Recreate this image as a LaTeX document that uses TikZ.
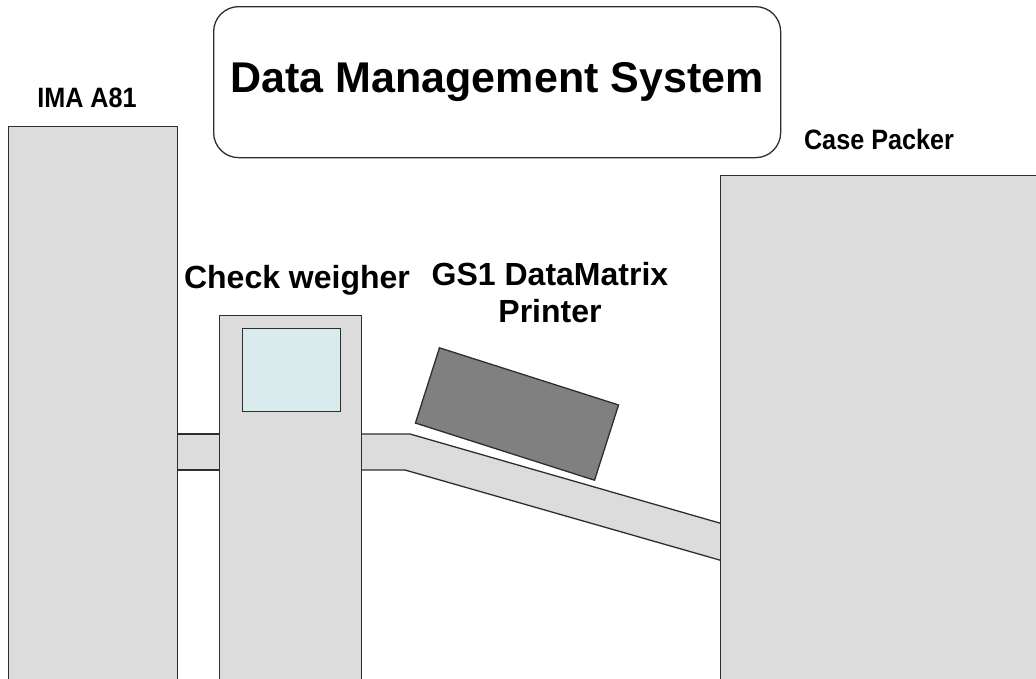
\documentclass[tikz,border=0pt]{standalone}
\usepackage{fontspec}
\setmainfont{Liberation Sans}
\usetikzlibrary{positioning,calc}
\definecolor{machinegray}{HTML}{DCDCDC}
\definecolor{screenblue}{HTML}{DAEBEE}
\definecolor{printergray}{HTML}{808080}
\definecolor{edgegray}{HTML}{2E2E2E}
\newcommand{\narrowtext}[1]{\scalebox{.9}[1]{#1}}

\begin{document}
\begin{tikzpicture}[x=1pt,y=-1pt,line width=1.3pt,draw=edgegray,
      machine/.style={draw=edgegray, fill=machinegray, inner sep=0, anchor=north west},
      tag/.style={font=\bfseries\fontsize{32}{37}\selectfont, align=center},
      narrowtag/.style={font=\bfseries\fontsize{28}{32}\selectfont}]
     \useasboundingbox (0,0) rectangle (1036,678);
     \clip (0,0) rectangle (1036,678);
     % conveyors
     \fill[machinegray] (170,434) rectangle (225,470);
     \draw (177,434) -- (219,434) (177,470) -- (219,470);
     \fill[machinegray] (355,434) -- (410,434) -- (730,526) -- (730,563) -- (405,470) -- (355,470) -- cycle;
     \draw (361,434) -- (410,434) -- (730,526);
     \draw (361,470) -- (405,470) -- (730,563);
     % machines
     \node[machine, minimum width=169, minimum height=600] (ima) at (8,126) {};
     \node[machine, minimum width=142, minimum height=400] (weigher) at (219,315) {};
     \node[draw=edgegray, fill=screenblue, inner sep=0, anchor=north west,
           minimum width=98, minimum height=83] (display) at (242,328) {};
     \node[draw=edgegray, fill=printergray, inner sep=0, rotate=-17.7,
           minimum width=188, minimum height=79] (printer) at (517,414) {};
     \node[machine, minimum width=340, minimum height=520] (packer) at (720,175) {};
     \node[draw=edgegray, rounded corners=25pt, inner sep=0, anchor=north west,
           minimum width=567, minimum height=151, font=\bfseries\fontsize{43}{50}\selectfont]
           (dms) at (213,6) {Data Management System};
     % labels
     \node[narrowtag] (imalabel) at (87,98) {\narrowtext{IMA A81}};
     \node[tag] (weigherlabel) at (297,280) {Check weigher};
     \node[tag] (printerlabel) at (550,293) {GS1 DataMatrix\\Printer};
     \node[narrowtag] (packerlabel) at (879,139) {\narrowtext{Case Packer}};
    \end{tikzpicture}
\end{document}
